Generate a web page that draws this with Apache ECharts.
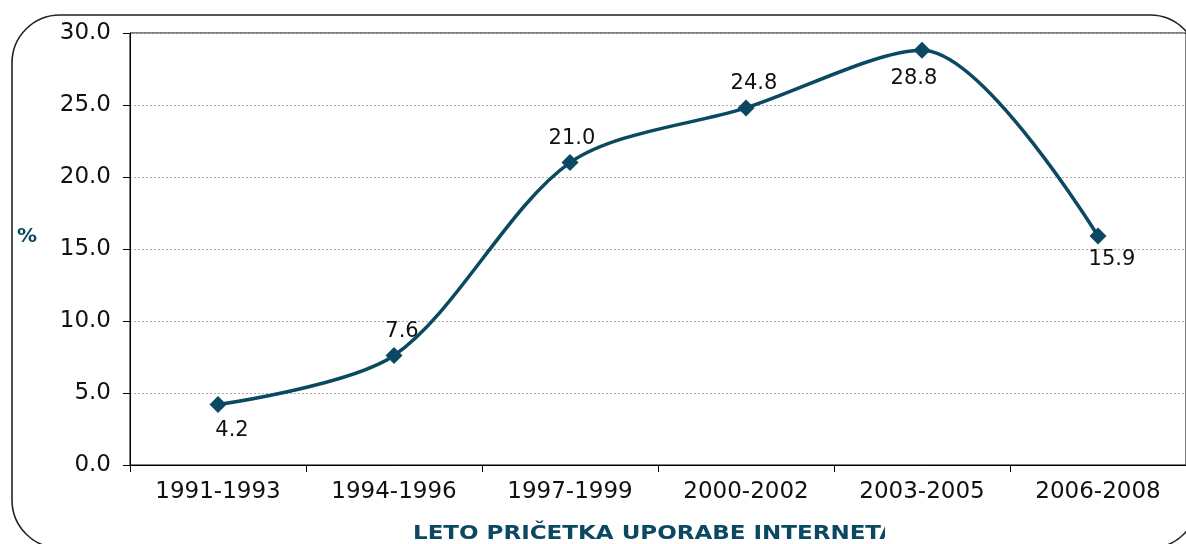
<!DOCTYPE html>
<html><head><meta charset="utf-8">
<script src="https://cdn.jsdelivr.net/npm/echarts@6/dist/echarts.min.js"></script>
<style>html,body{margin:0;padding:0;background:#fff}#c{width:1186px;height:544px}</style>
</head><body><div id="c"></div>
<script>
const categories = ['1991-1993','1994-1996','1997-1999','2000-2002','2003-2005','2006-2008'];
const values = [4.2, 7.6, 21.0, 24.8, 28.8, 15.9];
const xTitle = 'LETO PRIČETKA UPORABE INTERNETA';
const yTitle = '%';

const teal = '#0b4862';
const labelPlace = [
  {position:'bottom', offset:[14,2]},
  {position:'top', offset:[8,0]},
  {position:'top', offset:[2,0]},
  {position:'top', offset:[8,0]},
  {position:'bottom', offset:[-8,4]},
  {position:'bottom', offset:[14,0]}
];
const chart = echarts.init(document.getElementById('c'), null, {renderer:'canvas'});
chart.setOption({
  animation:false,
  backgroundColor:'#fff',
  grid:{left:130, top:33, width:1059, height:432, show:true, borderColor:'#000', borderWidth:1, backgroundColor:'transparent'},
  xAxis:{type:'category', data:categories, boundaryGap:true,
    axisLine:{lineStyle:{color:'#000', width:1}},
    axisTick:{show:true, length:7, lineStyle:{color:'#000'}},
    axisLabel:{color:'#111', fontFamily:'DejaVu Sans', fontSize:23, margin:16}},
  yAxis:{type:'value', min:0, max:30, interval:5,
    axisLine:{show:true, lineStyle:{color:'#000', width:1}},
    axisTick:{show:true, length:7, lineStyle:{color:'#000'}},
    axisLabel:{color:'#111', fontFamily:'DejaVu Sans', fontSize:23, margin:19, formatter:v=>v.toFixed(1)},
    splitLine:{show:true, lineStyle:{color:'#aaa', type:[2,2], width:1}}},
  series:[{type:'line', data:values.map((v,i)=>({value:v, label:labelPlace[i]})), smooth:0.3,
    symbol:'diamond', symbolSize:17,
    lineStyle:{color:teal, width:3.5}, itemStyle:{color:teal},
    label:{show:true, color:'#111', fontFamily:'DejaVu Sans', fontSize:21, formatter:p=>p.value.toFixed(1)}}],
  graphic:[
    {type:'rect', shape:{x:12, y:15, width:1186, height:533, r:48}, style:{fill:'none', stroke:'#222', lineWidth:1.6}, z:100},
    {type:'text', x:17, y:227, style:{text:yTitle, fill:teal, font:'bold 20px "DejaVu Sans"'}, z:100},
    {type:'text', x:413, y:524, scaleX:1.15, style:{text:xTitle, fill:teal, font:'bold 20px "DejaVu Sans"'}, z:100},
    {type:'rect', shape:{x:885, y:515, width:260, height:29}, style:{fill:'#fff'}, z:101}
  ]
});
</script></body></html>
